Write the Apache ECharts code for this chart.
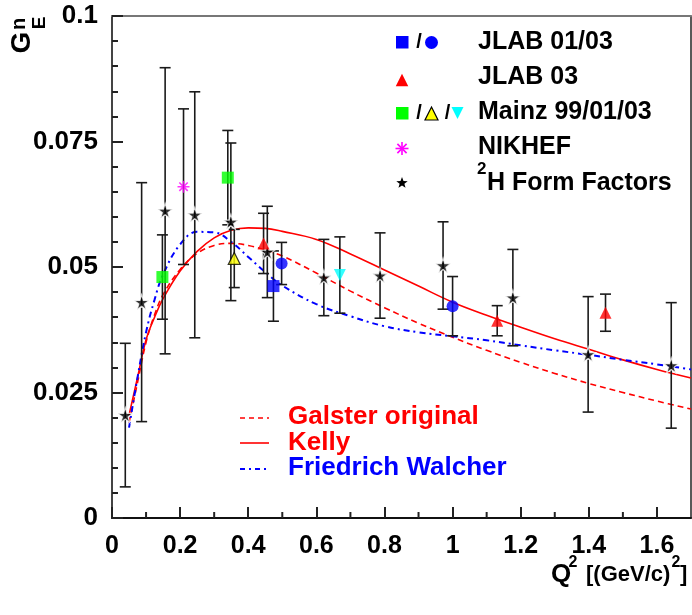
<!DOCTYPE html>
<html>
<head>
<meta charset="utf-8">
<script src="https://cdn.jsdelivr.net/npm/echarts@6/dist/echarts.min.js"></script>
<style>html,body{margin:0;padding:0;background:#fff}#c{width:692px;height:615px}</style>
</head>
<body>
<div id="c"></div>
<script>
// ---- data ----
const xTicks = [0, 0.2, 0.4, 0.6, 0.8, 1, 1.2, 1.4, 1.6];
const xMinorTicks = [0.1, 0.3, 0.5, 0.7, 0.9, 1.1, 1.3, 1.5];
const yTicks = [0, 0.025, 0.05, 0.075, 0.1];
const yMinorTicks = [0.005, 0.01, 0.015, 0.02, 0.03, 0.035, 0.04, 0.045, 0.055, 0.06, 0.065, 0.07, 0.08, 0.085, 0.09, 0.095];

// [Q2, GEn, error]
const deuteronFF = [
  [0.039, 0.0205, 0.0143], [0.087, 0.043, 0.0238], [0.156, 0.0612, 0.0285],
  [0.243, 0.0604, 0.0245], [0.349, 0.059, 0.0157], [0.456, 0.053, 0.0091],
  [0.622, 0.0479, 0.0076], [0.787, 0.0483, 0.0085], [0.972, 0.0503, 0.0087],
  [1.177, 0.0439, 0.0096], [1.398, 0.0326, 0.0115], [1.642, 0.0304, 0.0125]
];
const jlab0103Square = [[0.474, 0.0462, 0.007]];
const jlab0103Circle = [[0.498, 0.0507, 0.0042], [1.0, 0.0422, 0.0059]];
const jlab03 = [[0.445, 0.0547, 0.006], [1.131, 0.0393, 0.003], [1.449, 0.0409, 0.0037]];
const mainz99 = [[0.148, 0.048, 0.0084], [0.34, 0.0678, 0.0094]];
const mainz01 = [[0.359, 0.0517, 0.0058]];
const mainz03 = [[0.669, 0.0484, 0.0076]];
const nikhef = [[0.21, 0.066, 0.0155]];

const qCurve  = [0.05, 0.075, 0.1, 0.125, 0.15, 0.2, 0.25, 0.3, 0.35, 0.4, 0.45, 0.5, 0.6, 0.7, 0.8, 0.9, 1.0, 1.1, 1.2, 1.3, 1.4, 1.5, 1.6, 1.7];
const galster = [0.019, 0.027, 0.035, 0.0405, 0.0445, 0.0495, 0.0527, 0.0543, 0.0547, 0.0543, 0.0534, 0.0522, 0.0488, 0.0452, 0.0419, 0.0388, 0.0360, 0.0334, 0.0310, 0.0288, 0.0268, 0.0250, 0.0233, 0.0217];
const kelly   = [0.0205, 0.028, 0.0355, 0.040, 0.0437, 0.0492, 0.0531, 0.0558, 0.0573, 0.0578, 0.0577, 0.0571, 0.0555, 0.0526, 0.0494, 0.0462, 0.0430, 0.0404, 0.0380, 0.0357, 0.0336, 0.0315, 0.0296, 0.0279];
const walcher = [0.018, 0.028, 0.037, 0.0435, 0.0485, 0.0545, 0.0570, 0.0569, 0.0550, 0.0520, 0.0490, 0.0463, 0.0426, 0.0402, 0.0382, 0.0370, 0.0362, 0.0354, 0.0344, 0.0334, 0.0325, 0.0315, 0.0306, 0.0296];

// ---- chart ----
const FONT = '"Liberation Sans", Arial, sans-serif';
const chart = echarts.init(document.getElementById('c'));
const pairs = ys => qCurve.map((q, i) => [q, ys[i]]);
const barItems = [].concat(deuteronFF, jlab0103Square, jlab0103Circle, jlab03, mainz99, mainz01, mainz03, nikhef);

const starPath = 'path://M50,0 L61,35 L98,35 L68,57 L79,91 L50,70 L21,91 L32,57 L2,35 L39,35 Z';
const asteriskPath = 'path://M0,50 L100,50 M50,0 L50,100 M15,15 L85,85 M85,15 L15,85';

function scatter(data, symbol, size, color, extra) {
  return Object.assign({
    type: 'scatter', data: data.map(d => [d[0], d[1]]), symbol: symbol, symbolSize: size,
    itemStyle: {color: color}, z: 5, silent: true
  }, extra || {});
}

const option = {
  animation: false,
  grid: {left: 112, right: 1, top: 16, bottom: 97},
  xAxis: [{
    type: 'value', min: 0, max: 1.7, interval: 0.2,
    axisLine: {show: true, onZero: false, lineStyle: {color: '#111', width: 2}},
    axisTick: {show: true, inside: true, length: 11, lineStyle: {color: '#222', width: 2}},
    axisLabel: {show: true, showMaxLabel: false, margin: 16, color: '#000', fontSize: 25, fontWeight: 'bold', fontFamily: FONT,
      formatter: v => (Math.abs(v - 1.7) < 1e-6 ? '' : String(+v.toFixed(2)))},
    splitLine: {show: false}
  }, {
    type: 'value', min: 0, max: 1.7, position: 'top',
    axisLine: {show: true, onZero: false, lineStyle: {color: '#777', width: 2}},
    axisTick: {show: false}, axisLabel: {show: false}, splitLine: {show: false}
  }],
  yAxis: [{
    type: 'value', min: 0, max: 0.1, interval: 0.025,
    axisLine: {show: true, onZero: false, lineStyle: {color: '#444', width: 2}},
    axisTick: {show: true, inside: true, length: 11, lineStyle: {color: '#222', width: 2}},
    minorTick: {show: true, splitNumber: 5, length: 6, lineStyle: {color: '#222', width: 2}},
    axisLabel: {margin: 14, color: '#000', fontSize: 26, fontWeight: 'bold', fontFamily: FONT},
    splitLine: {show: false}
  }, {
    type: 'value', min: 0, max: 0.1, position: 'right',
    axisLine: {show: true, onZero: false, lineStyle: {color: '#222', width: 1.5}},
    axisTick: {show: false}, axisLabel: {show: false}, splitLine: {show: false}
  }],
  series: [
    {type: 'line', data: pairs(galster), smooth: 0.4, symbol: 'none', z: 2, silent: true,
     lineStyle: {color: '#ff0000', width: 1.6, type: [6, 4]}},
    {type: 'line', data: pairs(kelly), smooth: 0.4, symbol: 'none', z: 2, silent: true,
     lineStyle: {color: '#ff0000', width: 1.6}},
    {type: 'line', data: pairs(walcher), smooth: 0.4, symbol: 'none', z: 2, silent: true,
     lineStyle: {color: '#0000ff', width: 2, type: [6, 4, 2, 4]}},
    {
      type: 'custom', z: 3, silent: true,
      data: barItems,
      renderItem: function (params, api) {
        const x = api.value(0), y = api.value(1), e = api.value(2);
        const top = api.coord([x, y + e]);
        const bot = api.coord([x, y - e]);
        const w = 5.5;
        const st = {stroke: '#1a1a1a', lineWidth: 1.6};
        return {type: 'group', children: [
          {type: 'line', shape: {x1: top[0], y1: top[1], x2: bot[0], y2: bot[1]}, style: st},
          {type: 'line', shape: {x1: top[0] - w, y1: top[1], x2: top[0] + w, y2: top[1]}, style: st},
          {type: 'line', shape: {x1: bot[0] - w, y1: bot[1], x2: bot[0] + w, y2: bot[1]}, style: st}
        ]};
      }
    },
    {
      type: 'custom', z: 3, silent: true, clip: false,
      data: xMinorTicks.map(v => [v, 0]),
      renderItem: function (params, api) {
        const p = api.coord([api.value(0), 0]);
        return {type: 'line', shape: {x1: p[0], y1: p[1], x2: p[0], y2: p[1] - 6}, style: {stroke: '#222', lineWidth: 2}};
      }
    },
    scatter(deuteronFF, starPath, 15, '#000', {itemStyle: {color: '#000', borderColor: '#fff', borderWidth: 1.2}}),
    scatter(jlab0103Square, 'rect', 12, '#0000ff'),
    scatter(jlab0103Circle, 'circle', 12, '#0000ff'),
    scatter(jlab03, 'triangle', 12, '#ff0000'),
    scatter(mainz99, 'rect', 12, '#00ff00'),
    scatter(mainz01, 'triangle', 12, '#ffff00', {itemStyle: {color: '#ffff00', borderColor: '#000', borderWidth: 1.2}}),
    scatter(mainz03, 'triangle', 12, '#00ffff', {symbolRotate: 180}),
    scatter(nikhef, asteriskPath, 12, 'rgba(0,0,0,0)', {itemStyle: {color: 'rgba(0,0,0,0)', borderColor: '#ff00ff', borderWidth: 1.6}})
  ],
  graphic: []
};

// ---- legends & titles (graphic) ----
const g = [];
function txt(x, y, s, size, color, align, extra) {
  g.push(Object.assign({type: 'text', x: x, y: y, silent: true, z: 10,
    style: {text: s, fill: color || '#000', fontSize: size, fontWeight: 'bold', fontFamily: FONT,
            align: align || 'left', verticalAlign: 'middle'}}, extra || {}));
}
function tri(cx, cy, s, fill, down, stroke) {
  const h = s / 2;
  const pts = down ? [[cx - h, cy - h], [cx + h, cy - h], [cx, cy + h]] : [[cx, cy - h], [cx + h, cy + h], [cx - h, cy + h]];
  const st = {fill: fill};
  if (stroke) { st.stroke = stroke; st.lineWidth = 1.2; }
  g.push({type: 'polygon', shape: {points: pts}, silent: true, z: 10, style: st});
}
const LX = 478, LFS = 25;
g.push({type: 'rect', shape: {x: 396, y: 36, width: 12.5, height: 12.5}, style: {fill: '#0000ff'}, silent: true, z: 10});
txt(419, 42.5, '/', 20, '#000', 'center');
g.push({type: 'circle', shape: {cx: 431.5, cy: 42.5, r: 6.5}, style: {fill: '#0000ff'}, silent: true, z: 10});
txt(LX, 42.5, 'JLAB 01/03', LFS);
tri(402, 80, 12.5, '#ff0000');
txt(LX, 77, 'JLAB 03', LFS);
g.push({type: 'rect', shape: {x: 396, y: 107, width: 12.5, height: 12.5}, style: {fill: '#00ff00'}, silent: true, z: 10});
txt(419, 113, '/', 20, '#000', 'center');
tri(431.5, 113.5, 13, '#ffff00', false, '#000');
txt(447.5, 113, '/', 20, '#000', 'center');
tri(457.5, 113, 12, '#00ffff', true);
txt(LX, 112, 'Mainz 99/01/03', LFS);
(function () {
  const cx = 402, cy = 148.5, r = 6.5, d = r * 0.707;
  [[-r, 0, r, 0], [0, -r, 0, r], [-d, -d, d, d], [d, -d, -d, d]].forEach(function (s) {
    g.push({type: 'line', shape: {x1: cx + s[0], y1: cy + s[1], x2: cx + s[2], y2: cy + s[3]},
      style: {stroke: '#ff00ff', lineWidth: 1.6}, silent: true, z: 10});
  });
})();
txt(LX, 147.5, 'NIKHEF', LFS);
(function () {
  const cx = 402, cy = 183, R = 6, r = 2.5, pts = [];
  for (let i = 0; i < 10; i++) {
    const a = -Math.PI / 2 + i * Math.PI / 5, rr = i % 2 ? r : R;
    pts.push([cx + rr * Math.cos(a), cy + rr * Math.sin(a)]);
  }
  g.push({type: 'polygon', shape: {points: pts}, style: {fill: '#000'}, silent: true, z: 10});
})();
txt(477, 169, '2', 17);
txt(487, 183, 'H Form Factors', LFS);

g.push({type: 'line', shape: {x1: 240, y1: 418, x2: 269, y2: 418}, style: {stroke: '#ff0000', lineWidth: 1.6, lineDash: [5, 4]}, silent: true, z: 10});
txt(288, 417, 'Galster original', 26, '#ff0000');
g.push({type: 'line', shape: {x1: 240, y1: 443, x2: 269, y2: 443}, style: {stroke: '#ff0000', lineWidth: 1.6}, silent: true, z: 10});
txt(288, 443, 'Kelly', 26, '#ff0000');
g.push({type: 'line', shape: {x1: 240, y1: 469, x2: 269, y2: 469}, style: {stroke: '#0000ff', lineWidth: 2, lineDash: [5, 4, 2, 4]}, silent: true, z: 10});
txt(288, 468, 'Friedrich Walcher', 26, '#0000ff');

txt(22.5, 42.5, 'G', 28, '#000', 'center', {rotation: Math.PI / 2});
txt(39.5, 23, 'E', 19, '#000', 'center', {rotation: Math.PI / 2});
txt(19.5, 24, 'n', 20, '#000', 'center', {rotation: Math.PI / 2});

txt(551, 575, 'Q', 26);
txt(573, 563, '2', 16, '#000', 'center');
txt(586, 575, '[(GeV/c)', 22);
txt(676, 563, '2', 16, '#000', 'center');
txt(680, 575, ']', 22);

option.graphic = g;
chart.setOption(option);
</script>
</body>
</html>
